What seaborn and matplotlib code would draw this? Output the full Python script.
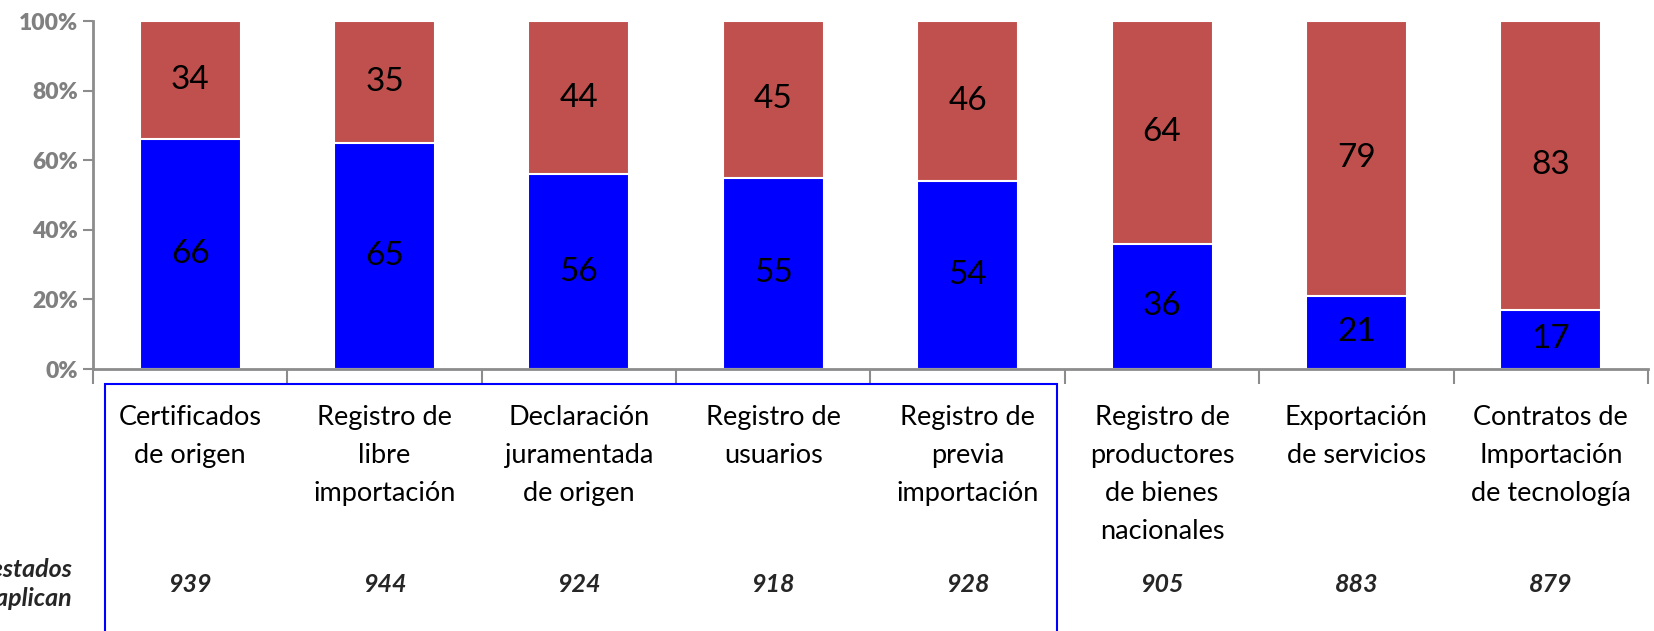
import matplotlib
matplotlib.use("Agg")
import matplotlib.pyplot as plt
import matplotlib.transforms as mtransforms
from matplotlib.patches import Rectangle
import pandas as pd
import seaborn as sns

# Datos
categorias = [
    "Certificados\nde origen",
    "Registro de\nlibre\nimportación",
    "Declaración\njuramentada\nde origen",
    "Registro de\nusuarios",
    "Registro de\nprevia\nimportación",
    "Registro de\nproductores\nde bienes\nnacionales",
    "Exportación\nde servicios",
    "Contratos de\nImportación\nde tecnología",
]
si_aplica = [66, 65, 56, 55, 54, 36, 21, 17]
no_aplica = [34, 35, 44, 45, 46, 64, 79, 83]
encuestados = [939, 944, 924, 918, 928, 905, 883, 879]

df = pd.DataFrame({
    "categoria": categorias,
    "si": si_aplica,
    "no": no_aplica,
    "total": [a + b for a, b in zip(si_aplica, no_aplica)],
    "n": encuestados,
})

sns.set_theme(style="white")
plt.rcParams["font.family"] = ["Lato", "DejaVu Sans"]

AZUL = "#0000FF"
ROJO = "#C0504D"
GRIS = "#8C8C8C"

fig = plt.figure(figsize=(16.54, 6.31), dpi=100)
ax = fig.add_axes([93 / 1654, 1 - 369 / 631, (1648 - 93) / 1654, 348 / 631])

# barras apiladas: total (rojo) y encima la parte azul
sns.barplot(data=df, x="categoria", y="total", color=ROJO, saturation=1,
            width=0.52, edgecolor="white", linewidth=1.5, ax=ax)
sns.barplot(data=df, x="categoria", y="si", color=AZUL, saturation=1,
            width=0.52, edgecolor="white", linewidth=1.5, ax=ax)

for i, (a, b) in enumerate(zip(si_aplica, no_aplica)):
    ax.text(i, a / 2, str(a), ha="center", va="center", fontsize=24, color="black")
    ax.text(i, a + b / 2, str(b), ha="center", va="center", fontsize=24, color="black")

ax.set_xlim(-0.5, len(categorias) - 0.5)
ax.set_ylim(0, 100)
ax.set_xlabel("")
ax.set_ylabel("")

ax.set_yticks(range(0, 101, 20))
ax.set_yticklabels([f"{v}%" for v in range(0, 101, 20)])
ax.tick_params(axis="y", length=7, width=1.5, color=GRIS, pad=4, left=True)
plt.setp(ax.get_yticklabels(), fontsize=16.5, fontweight="heavy", color="#808080")

ax.tick_params(axis="x", which="major", length=0, pad=26)
ax.set_xticks([i - 0.5 for i in range(len(categorias) + 1)], minor=True)
ax.tick_params(axis="x", which="minor", length=11, width=1.5, color=GRIS,
               direction="out", bottom=True)
plt.setp(ax.get_xticklabels(), fontsize=19.5, color="black", linespacing=1.65,
         va="top")

for s in ["top", "right"]:
    ax.spines[s].set_visible(False)
for s in ["left", "bottom"]:
    ax.spines[s].set_color(GRIS)
    ax.spines[s].set_linewidth(2)

# fila con número de encuestados
trans = mtransforms.blended_transform_factory(ax.transData, ax.transAxes)
for i, n in enumerate(encuestados):
    ax.text(i, -0.618, str(n), transform=trans, ha="center", va="center",
            fontsize=18, fontweight="bold", fontstyle="italic", clip_on=False)
fig.text(72 / 1654, 1 - 584 / 631, "Encuestados\nque aplican", ha="right",
         va="center", fontsize=18, fontweight="bold", fontstyle="italic",
         linespacing=1.3)

# recuadro azul alrededor de los primeros cinco trámites
ax.add_patch(Rectangle((-0.438, -1.0), 4.9, 1.0 - 15 / 348, transform=trans,
                       fill=False, edgecolor=AZUL, linewidth=1.5, clip_on=False))

fig.savefig("out.png", dpi=100)
